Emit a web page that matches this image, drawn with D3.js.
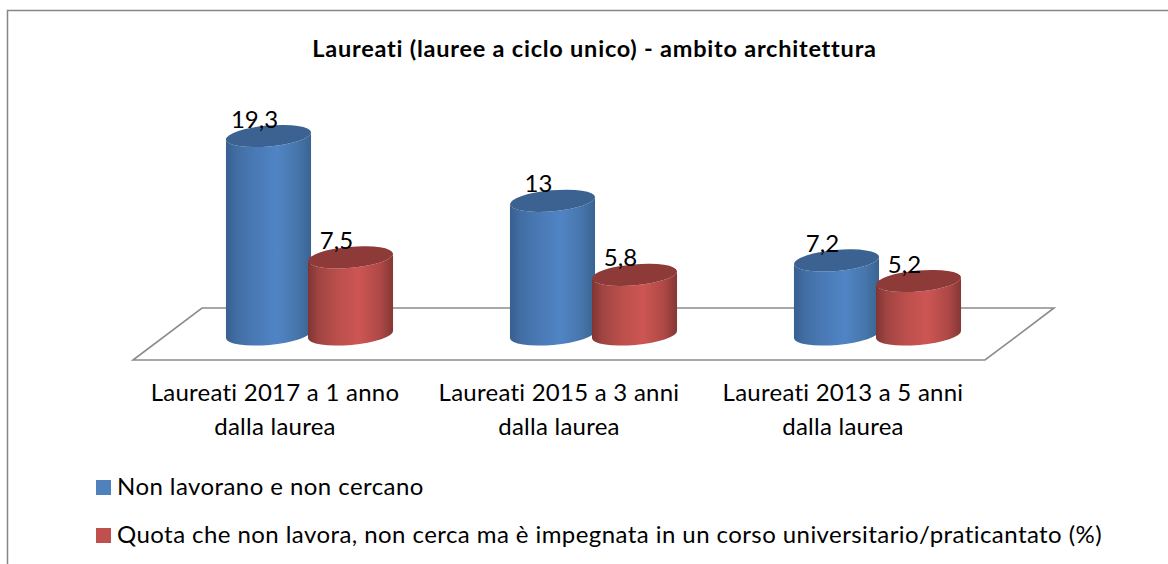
<!DOCTYPE html>
<html><head><meta charset="utf-8">
<script src="https://cdn.jsdelivr.net/npm/d3@7"></script>
<style>html,body{margin:0;padding:0;background:#fff}svg{display:block}text{font-family:Lato,Carlito,sans-serif;fill:#000;font-variant-ligatures:none}</style>
</head><body><svg id="c" width="1168" height="564"></svg>
<script>
const categories = [["Laureati 2017 a 1 anno","dalla laurea"],["Laureati 2015 a 3 anni","dalla laurea"],["Laureati 2013 a 5 anni","dalla laurea"]];
const seriesNames = ["Non lavorano e non cercano","Quota che non lavora, non cerca ma è impegnata in un corso universitario/praticantato (%)"];
const blueValues = [19.3,13,7.2];
const redValues = [7.5,5.8,5.2];
const titleText = "Laureati (lauree a ciclo unico) - ambito architettura";

const svg = d3.select("#c");
const W=1168,H=564;
const x = d3.scaleBand().domain([0,1,2]).range([167.5,1019.5]);
const sub = d3.scaleBand().domain([0,1]).range([0,164]);
const baseY = 334.5;
const y = d3.scaleLinear().domain([0,19.3]).range([baseY,136]);
const rx=42.7, ry=10.5, rot=-5;
const a=rot*Math.PI/180, ex=rx*Math.cos(a), ey=rx*Math.sin(a);
const labelSize=24;

const defs=svg.append("defs");
function grad(id,stops){
  const g=defs.append("linearGradient").attr("id",id);
  stops.forEach(s=>g.append("stop").attr("offset",s[0]).attr("stop-color",s[1]));
}
grad("gb",[[0,"#38608f"],[0.12,"#416da3"],[0.35,"#4a7ab6"],[0.6,"#5084c4"],[0.85,"#4675aa"],[1,"#3a6391"]]);
grad("gr",[[0,"#7f3533"],[0.12,"#a04442"],[0.35,"#bb4f4c"],[0.6,"#cd5653"],[0.85,"#ae4846"],[1,"#843735"]]);

// frame
svg.append("path").attr("d",`M7.5,${H}V10.5H${W}`).attr("fill","none").attr("stroke","#868686").attr("stroke-width",1.5);

// title
svg.append("text").attr("x",594.5).attr("y",57).attr("text-anchor","middle").attr("font-size",23.5).attr("font-weight",700).attr("letter-spacing",0.77).text(titleText);

// floor
const L=x.range()[0],R=x.range()[1],d=34.5;
svg.append("path").attr("d",`M${L-d},360H${R-d}L${R+d},308H${L+d}Z`).attr("fill","#fff").attr("stroke","#8c8c8c").attr("stroke-width",1.6);

// cylinders
const colors=[{g:"url(#gb)",top:"#3b6291"},{g:"url(#gr)",top:"#8d3a38"}];
const layer=svg.append("g");
const labels=svg.append("g");
categories.forEach((c,i)=>{
  [blueValues,redValues].forEach((vals,s)=>{
    const v=vals[i];
    const cx=x(i)+x.bandwidth()/2-82+sub(s)+sub.bandwidth()/2-0;
    const ty=y(v);
    const body=`M${cx-ex},${ty-ey}L${cx-ex},${baseY-ey}A${rx},${ry},${rot},0,0,${cx+ex},${baseY+ey}L${cx+ex},${ty+ey}A${rx},${ry},${rot},0,1,${cx-ex},${ty-ey}Z`;
    layer.append("path").attr("d",body).attr("fill",colors[s].g);
    layer.append("ellipse").attr("cx",cx).attr("cy",ty).attr("rx",rx).attr("ry",ry)
      .attr("transform",`rotate(${rot} ${cx} ${ty})`).attr("fill",colors[s].top);
    labels.append("text").attr("x",cx-14).attr("y",ty-8.5).attr("text-anchor","middle").attr("font-size",labelSize)
      .text(String(v).replace(".",","));
  });
  c.forEach((line,j)=>{
    svg.append("text").attr("x",x(i)+x.bandwidth()/2-d).attr("y",401+j*34).attr("text-anchor","middle").attr("font-size",labelSize).attr("letter-spacing",0.25).text(line);
  });
});

// legend
seriesNames.forEach((n,s)=>{
  const ly=480+s*48;
  svg.append("rect").attr("x",96).attr("y",ly).attr("width",15).attr("height",15).attr("fill",s?"#c0504d":"#4f81bd");
  svg.append("text").attr("x",117).attr("y",ly+15).attr("font-size",labelSize).attr("letter-spacing",0.43).text(n);
});
</script></body></html>
